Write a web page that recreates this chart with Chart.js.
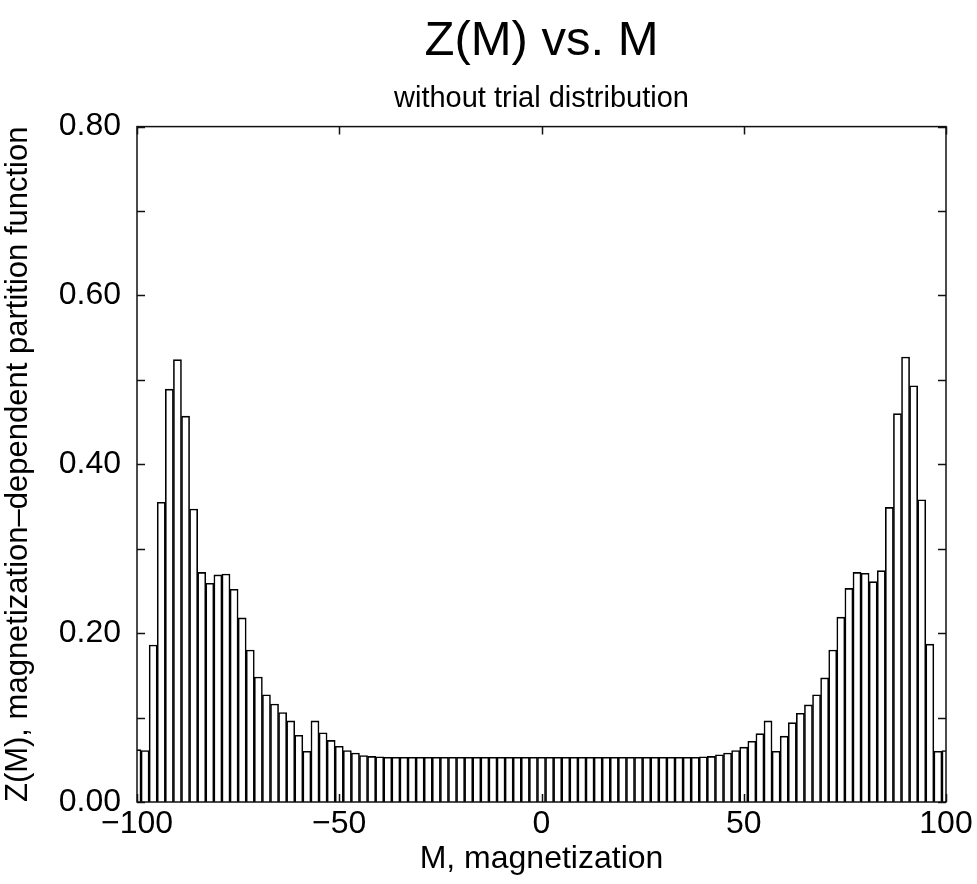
<!DOCTYPE html>
<html>
<head>
<meta charset="utf-8">
<script src="https://cdn.jsdelivr.net/npm/chart.js@4/dist/chart.umd.min.js"></script>
<style>
  html, body { margin: 0; padding: 0; background: #fff; }
  #wrap { width: 977px; height: 884px; position: relative; }
</style>
</head>
<body>
<div id="wrap"><canvas id="c"></canvas></div>
<script>
// Magnetization values (bin centres)
const magnetization = [
  -100, -98, -96, -94, -92, -90, -88, -86, -84, -82,
  -80, -78, -76, -74, -72, -70, -68, -66, -64, -62,
  -60, -58, -56, -54, -52, -50, -48, -46, -44, -42,
  -40, -38, -36, -34, -32, -30, -28, -26, -24, -22,
  -20, -18, -16, -14, -12, -10, -8, -6, -4, -2,
  0, 2, 4, 6, 8, 10, 12, 14, 16, 18,
  20, 22, 24, 26, 28, 30, 32, 34, 36, 38,
  40, 42, 44, 46, 48, 50, 52, 54, 56, 58,
  60, 62, 64, 66, 68, 70, 72, 74, 76, 78,
  80, 82, 84, 86, 88, 90, 92, 94, 96, 98,
  100
];
// Z(M), magnetization-dependent partition function
const partitionZ = [
  0.062, 0.061, 0.186, 0.355, 0.489, 0.524, 0.457, 0.347, 0.272, 0.259,
  0.269, 0.270, 0.252, 0.218, 0.180, 0.148, 0.127, 0.116, 0.106, 0.096,
  0.079, 0.060, 0.096, 0.082, 0.073, 0.066, 0.061, 0.058, 0.055, 0.054,
  0.0535, 0.053, 0.053, 0.053, 0.053, 0.053, 0.053, 0.053, 0.053, 0.053,
  0.053, 0.053, 0.053, 0.053, 0.053, 0.053, 0.053, 0.053, 0.053, 0.053,
  0.053, 0.053, 0.053, 0.053, 0.053, 0.053, 0.053, 0.053, 0.053, 0.053,
  0.053, 0.053, 0.053, 0.053, 0.053, 0.053, 0.053, 0.053, 0.053, 0.053,
  0.0535, 0.054, 0.056, 0.058, 0.061, 0.065, 0.072, 0.081, 0.096, 0.060,
  0.078, 0.094, 0.105, 0.115, 0.127, 0.147, 0.180, 0.219, 0.253, 0.272,
  0.271, 0.261, 0.274, 0.349, 0.460, 0.527, 0.493, 0.358, 0.187, 0.060,
  0.061
];
const xTickValues = [-100, -50, 0, 50, 100];
const yTickValues = [0.0, 0.1, 0.2, 0.3, 0.4, 0.5, 0.6, 0.7, 0.8];
const yLabelledTicks = [0.0, 0.2, 0.4, 0.6, 0.8];

const FONT = "'Liberation Sans', Arial, Helvetica, sans-serif";

const framePlugin = {
  id: 'frameTicks',
  afterDatasetsDraw(chart) {
    const {ctx, chartArea: a, scales: {x, y}} = chart;
    ctx.save();
    ctx.strokeStyle = '#111';
    ctx.lineWidth = 1.5;
    ctx.strokeRect(a.left, a.top, a.right - a.left, a.bottom - a.top);
    const L = 8;
    ctx.beginPath();
    yTickValues.forEach(v => {
      const py = Math.round(y.getPixelForValue(v)) + 0.5;
      ctx.moveTo(a.left, py); ctx.lineTo(a.left + L, py);
      ctx.moveTo(a.right, py); ctx.lineTo(a.right - L, py);
    });
    xTickValues.forEach(v => {
      const px = Math.round(x.getPixelForValue(v)) + 0.5;
      ctx.moveTo(px, a.bottom); ctx.lineTo(px, a.bottom - L);
      ctx.moveTo(px, a.top); ctx.lineTo(px, a.top + L);
    });
    ctx.stroke();
    ctx.restore();
  }
};

new Chart(document.getElementById('c'), {
  type: 'bar',
  data: {
    datasets: [{
      data: magnetization.map((m, i) => ({x: m, y: partitionZ[i]})),
      backgroundColor: '#ffffff',
      borderColor: '#000000',
      borderWidth: 1.6,
      borderSkipped: 'start',
      barPercentage: 1.0,
      categoryPercentage: 1.0,
      clip: 0
    }]
  },
  options: {
    responsive: true,
    maintainAspectRatio: false,
    animation: false,
    layout: { padding: { left: 0, right: 31, top: 0, bottom: 0 } },
    plugins: {
      legend: { display: false },
      tooltip: { enabled: false },
      title: {
        display: true,
        text: 'Z(M) vs. M',
        color: '#000',
        fullSize: false,
        font: { family: FONT, size: 49, weight: 'normal', lineHeight: 1.2 },
        padding: { top: 12, bottom: 11 }
      },
      subtitle: {
        display: true,
        text: 'without trial distribution',
        color: '#000',
        fullSize: false,
        font: { family: FONT, size: 29, weight: 'normal', lineHeight: 1.2 },
        padding: { top: 0, bottom: 10 }
      }
    },
    scales: {
      x: {
        type: 'linear',
        min: -100,
        max: 100,
        offset: false,
        grid: { display: false, drawTicks: false },
        border: { display: false },
        afterBuildTicks(scale) { scale.ticks = xTickValues.map(v => ({value: v})); },
        afterFit(scale) { scale.height = 82; },
        ticks: {
          color: '#000',
          padding: 3,
          maxRotation: 0,
          font: { family: FONT, size: 32 },
          callback: v => (v < 0 ? '\u2212' + Math.abs(v) : String(v))
        },
        title: {
          display: true,
          text: 'M, magnetization',
          color: '#000',
          font: { family: FONT, size: 32 },
          padding: { top: 0, bottom: 6 }
        }
      },
      y: {
        min: 0,
        max: 0.8,
        grid: { display: false, drawTicks: false },
        border: { display: false },
        afterBuildTicks(scale) { scale.ticks = yLabelledTicks.map(v => ({value: v})); },
        afterFit(scale) { scale.width = 137; },
        ticks: {
          color: '#000',
          padding: 16,
          font: { family: FONT, size: 32 },
          callback: v => Number(v).toFixed(2)
        },
        title: {
          display: true,
          text: 'Z(M), magnetization\u2013dependent partition function',
          color: '#000',
          font: { family: FONT, size: 31 },
          padding: { top: 0, bottom: 0 }
        }
      }
    }
  },
  plugins: [framePlugin]
});
</script>
</body>
</html>
